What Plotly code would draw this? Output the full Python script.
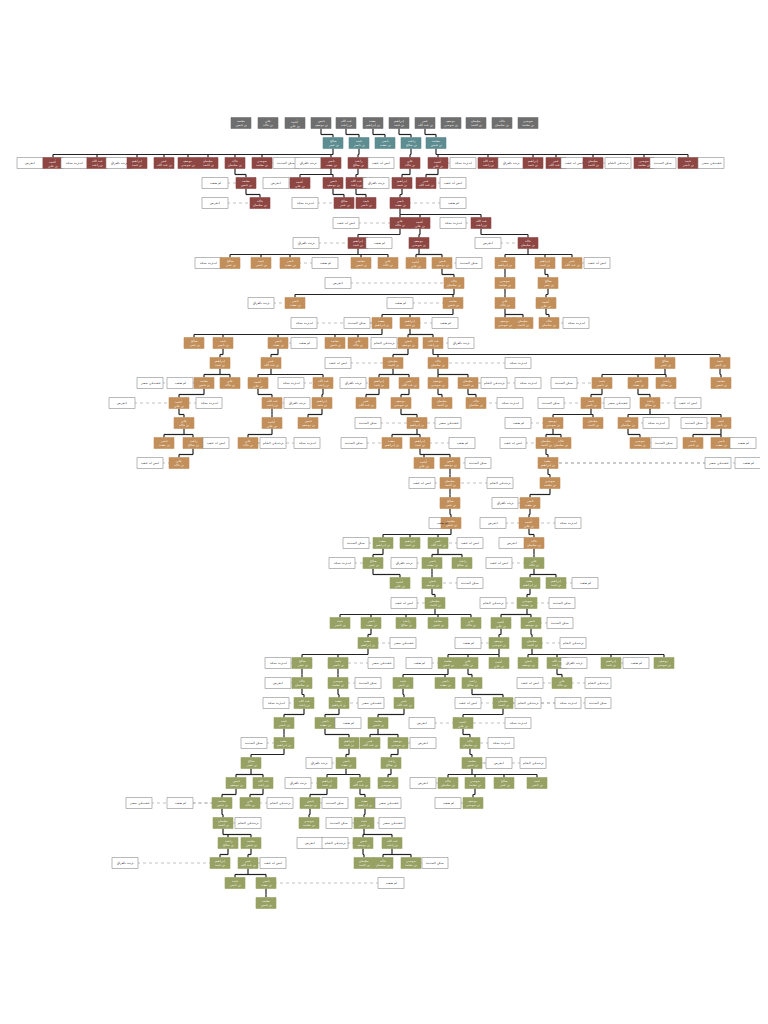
import plotly.graph_objects as go

# Each row is one generation; each entry = (horizontal slot, kind)
# kinds: g gray, t teal, r red, n tan, v olive, w note
rows = [
 "233g 260g 287g 313g 338g 365g 391g 417g 443g 468g 494g 520g",
 "325t 351t 377t 403t 428t",
 "22w 45r 66w 89r 111w 129r 156r 180r 200r 227r 254r 278w 300w 323r 350r 373w 402r 430r 455w 480r 503w 525r 548r 566w 585r 610w 636r 655w 680r 703w",
 "207w 238r 268w 292r 325r 348r 368w 394r 418r 445w",
 "207w 252r 297w 336r 358r 392r 445w",
 "338w 392r 412r 445w 473r",
 "298w 350r 371w 411r 480w 520r",
 "200w 222n 253n 282n 317w 353n 380n 408n 434n 461w 497n 537n 564n 589w",
 "330w 446n 497n 540n",
 "253w 287n 392w 445n 497n 538n",
 "296w 349w 374n 402n 437w 497n 515n 541n 568w",
 "186n 215n 270n 296w 327n 350n 376w 400n 425n 453w",
 "212n 263n 330w 385n 430n 510w 657n 712n",
 "142w 172w 196n 222n 250n 283w 315n 345w 371n 401n 430n 460n 486w 520w 556w 594n 630n 658n 713n",
 "114w 171n 201w 264n 289w 314n 358n 393n 434n 468n 502w 543w 583n 609w 642n 680w",
 "176n 264n 300n 360w 409n 440w 510w 545n 585n 620n 648w 686w 713n",
 "156n 185n 208w 240n 265w 299w 346w 384n 412n 454w 505w 538n 553n 632n 656w 685n 713n 735w",
 "142w 171n 416n 442n 470w 540n 710w 740w",
 "414w 442n 492w 542n",
 "442n 497w 522n",
 "434w 443n 485w 521n 560w",
 "348w 375v 402v 430v 462w 504w 526n",
 "334w 365v 396w 424v 454v 491w 526v",
 "392v 424v 462w 522v 548v 577w",
 "396w 427v 485w 519v 554w",
 "332v 363v 398v 430v 463v 493v 523v 552w",
 "360v 395w 460w 491v 524v 565w",
 "270w 294v 330v 373w 411w 440v 460v 491v 520v 549v 566w 603v 628w 656v",
 "270w 294v 330v 360w 395v 437v 464v 522w 554v 590w",
 "268w 296v 331v 363w 396v 460w 495v 520w 560w 590w",
 "276v 317v 340w 370v 414w 455v 510w",
 "246w 276v 341v 362v 390v 415w 462v 493w",
 "243v 311w 338v 383v 464v 491w 525w",
 "228v 255v 290w 319v 352v 380v 415w 440v 467v 496v 529v",
 "131w 172w 214v 242v 272w 302v 327w 357v 380w 440w 465v",
 "215v 240w 301v 331w 356v 384w",
 "220v 243v 302w 327w 355v 384v",
 "117w 212v 240v 265w 356v 375v 403v 427w",
 "227v 258v 383w",
 "258v",
]
first_names = ["محمد", "علي", "أحمد", "حسن", "عبد الله", "سعيد", "إبراهيم", "عمر",
               "يوسف", "سليمان", "خالد", "موسى", "صالح", "حمد", "ناصر", "راشد"]
notes = ["ليس له عقب", "انقرض", "ذريته في الشام", "له ذرية بمكة",
         "سكن المدينة", "ذريته بالعراق", "عقبه في مصر", "لم يعقب"]

fill = {"g": "#6e6e6e", "t": "#5d8c91", "r": "#8e4643", "n": "#c28f5b",
        "v": "#97a163", "w": "#ffffff"}

Y0, DY = 115, 20
def ypix(g):
    return Y0 + DY * g

nodes = []
for g, row in enumerate(rows):
    for tok in row.split():
        nodes.append(dict(x=float(tok[:-1]), k=tok[-1], g=g))

shapes, ann = [], []
lx, ly, dx, dy = [], [], [], []

colored = {}
for i, n in enumerate(nodes):
    if n["k"] != "w":
        colored.setdefault(n["g"], []).append(i)

children = {}
for i, n in enumerate(nodes):
    if n["k"] == "w" or n["g"] == 0:
        continue
    pg = n["g"] - 1
    while pg >= 0 and pg not in colored:
        pg -= 1
    if pg < 0:
        continue
    p = min(colored[pg], key=lambda j: abs(nodes[j]["x"] - n["x"]))
    children.setdefault(p, []).append(i)

H = 11
for p, ch in children.items():
    px, pyy = nodes[p]["x"], ypix(nodes[p]["g"])
    cy = min(ypix(nodes[c]["g"]) for c in ch)
    bus = cy - H / 2 - 3
    lx += [px, px, None]; ly += [pyy + H / 2, bus, None]
    xs = [nodes[c]["x"] for c in ch] + [px]
    lx += [min(xs), max(xs), None]; ly += [bus, bus, None]
    for c in ch:
        lx += [nodes[c]["x"], nodes[c]["x"], None]
        ly += [bus, ypix(nodes[c]["g"]) - H / 2, None]

for i, n in enumerate(nodes):
    if n["k"] == "w" and n["g"] in colored:
        j = min(colored[n["g"]], key=lambda j: abs(nodes[j]["x"] - n["x"]))
        y = ypix(n["g"])
        dx += [n["x"], nodes[j]["x"], None]; dy += [y, y, None]

for i, n in enumerate(nodes):
    y = ypix(n["g"])
    w = 20 if n["k"] != "w" else 26
    shapes.append(dict(type="rect", x0=n["x"] - w / 2, x1=n["x"] + w / 2,
                       y0=y - H / 2, y1=y + H / 2, fillcolor=fill[n["k"]],
                       line=dict(color="#8a8a8a" if n["k"] == "w" else fill[n["k"]], width=0.6),
                       layer="above"))
    if n["k"] == "w":
        txt = notes[i % len(notes)]
        col = "#222"
    else:
        txt = first_names[i % 16] + "<br>بن " + first_names[(i * 7 + 3) % 16]
        col = "#ffffff"
    ann.append(dict(x=n["x"], y=y, text=txt, showarrow=False,
                    font=dict(size=3, color=col, family="Noto Sans"),
                    xref="x", yref="y"))

fig = go.Figure()
fig.add_trace(go.Scatter(x=dx, y=dy, mode="lines", hoverinfo="skip",
                         line=dict(color="#999", width=0.6, dash="dot")))
fig.add_trace(go.Scatter(x=lx, y=ly, mode="lines", hoverinfo="skip",
                         line=dict(color="#222", width=1.2)))
fig.update_layout(width=768, height=1024, margin=dict(l=0, r=0, t=0, b=0),
                  paper_bgcolor="white", plot_bgcolor="white", showlegend=False,
                  shapes=shapes, annotations=ann,
                  xaxis=dict(range=[0, 768], visible=False, fixedrange=True),
                  yaxis=dict(range=[1024, 0], visible=False, fixedrange=True))
fig.write_html("out.html", config={"displayModeBar": False})
